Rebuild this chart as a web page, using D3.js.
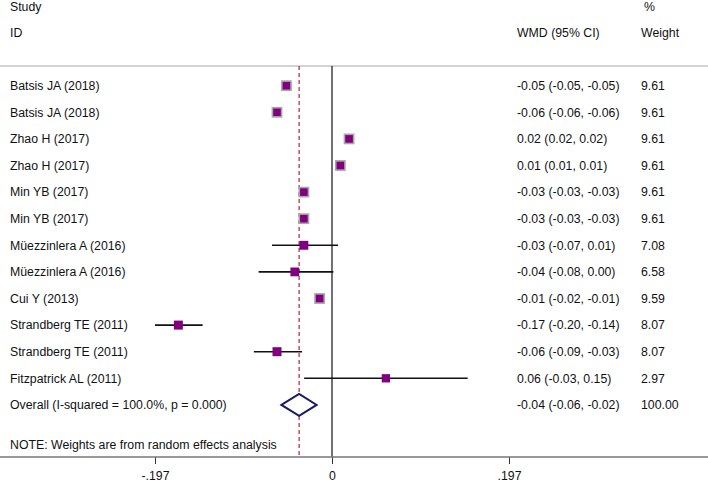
<!DOCTYPE html>
<html><head><meta charset="utf-8">
<script src="https://cdn.jsdelivr.net/npm/d3@7/dist/d3.min.js"></script>
<style>body{margin:0;background:#fff}svg{display:block}text{font-family:"Liberation Sans",Arial,sans-serif;font-size:12.3px;fill:#111}</style>
</head><body>
<script>
const studies = ["Batsis JA (2018)","Batsis JA (2018)","Zhao H (2017)","Zhao H (2017)","Min YB (2017)","Min YB (2017)","Müezzinlera A (2016)","Müezzinlera A (2016)","Cui Y (2013)","Strandberg TE (2011)","Strandberg TE (2011)","Fitzpatrick AL (2011)"];
const estimates = [-0.0507,-0.0612,0.019,0.0093,-0.0313,-0.0313,-0.0313,-0.0414,-0.0138,-0.171,-0.0612,0.060];
const lower = [-0.0512,-0.0617,0.0185,0.0088,-0.0318,-0.0318,-0.0668,-0.0817,-0.0143,-0.197,-0.087,-0.031];
const upper = [-0.0502,-0.0607,0.0195,0.0098,-0.0308,-0.0308,0.0067,0.0015,-0.0133,-0.144,-0.0333,0.151];
const effectLabels = ["-0.05 (-0.05, -0.05)","-0.06 (-0.06, -0.06)","0.02 (0.02, 0.02)","0.01 (0.01, 0.01)","-0.03 (-0.03, -0.03)","-0.03 (-0.03, -0.03)","-0.03 (-0.07, 0.01)","-0.04 (-0.08, 0.00)","-0.01 (-0.02, -0.01)","-0.17 (-0.20, -0.14)","-0.06 (-0.09, -0.03)","0.06 (-0.03, 0.15)"];
const weights = ["9.61","9.61","9.61","9.61","9.61","9.61","7.08","6.58","9.59","8.07","8.07","2.97"];
const overall = {label:"Overall  (I-squared = 100.0%, p = 0.000)", est:-0.0366, lo:-0.0563, hi:-0.0171, text:"-0.04 (-0.06, -0.02)", weight:"100.00"};
const tickValues = [-0.197, 0, 0.197];
const tickLabels = ["-.197","0",".197"];

const W=708,H=482;
const svg=d3.select("body").append("svg").attr("width",W).attr("height",H);
const x=d3.scaleLinear().domain([-0.197,0.197]).range([155,509]);
const y=d3.scaleLinear().domain([0,1]).range([85.7,112.3]);
const size=d3.scaleLinear().domain([2.97,9.61]).range([8.3,9.2]);
const topY=66, axisY=457;

// headers
const hdr=[["Study",10,7,"start"],["ID",10,33,"start"],["WMD (95% CI)",517,33,"start"],["%",644,7,"start"],["Weight",641,33,"start"]];
svg.selectAll("text.h").data(hdr).join("text").attr("class","h")
  .attr("x",d=>d[1]).attr("y",d=>d[2]).attr("dy","0.35em").text(d=>d[0]);

svg.append("line").attr("x1",0).attr("x2",W).attr("y1",topY).attr("y2",topY).attr("stroke","#c4c4c4").attr("stroke-width",1.5);

// zero line and overall line
svg.append("line").attr("x1",x(0)).attr("x2",x(0)).attr("y1",topY).attr("y2",axisY).attr("stroke","#111").attr("stroke-width",1.2);
svg.append("line").attr("x1",x(overall.est)).attr("x2",x(overall.est)).attr("y1",topY).attr("y2",axisY)
  .attr("stroke","#b22234").attr("stroke-width",1.2).attr("stroke-dasharray","4,3");

const rows=studies.map((s,i)=>({s,i,e:estimates[i],lo:lower[i],hi:upper[i],t:effectLabels[i],w:weights[i]}));
svg.selectAll("line.ci").data(rows).join("line").attr("class","ci")
  .attr("x1",d=>x(d.lo)).attr("x2",d=>x(d.hi)).attr("y1",d=>y(d.i)).attr("y2",d=>y(d.i))
  .attr("stroke","#111").attr("stroke-width",1.6);
svg.selectAll("rect.box").data(rows).join("rect").attr("class","box")
  .each(function(d){
    const sz=size(+d.w);
    const narrow=(x(d.hi)-x(d.lo))<sz;
    d3.select(this).attr("x",x(d.e)-sz/2).attr("y",y(d.i)-sz/2).attr("width",sz).attr("height",sz)
      .attr("fill","#800080").attr("stroke",narrow?"#a8a8a8":"none").attr("stroke-width",narrow?1.6:0);
  });
svg.selectAll("text.st").data(rows).join("text").attr("class","st")
  .attr("x",10).attr("y",d=>y(d.i)).attr("dy","0.35em").text(d=>d.s);
svg.selectAll("text.ef").data(rows).join("text").attr("class","ef")
  .attr("x",517).attr("y",d=>y(d.i)).attr("dy","0.35em").text(d=>d.t);
svg.selectAll("text.wt").data(rows).join("text").attr("class","wt")
  .attr("x",641).attr("y",d=>y(d.i)).attr("dy","0.35em").text(d=>d.w);

// overall
const oy=y(studies.length);
svg.append("path").attr("d",`M${x(overall.lo)},${oy}L${x(overall.est)},${oy-11}L${x(overall.hi)},${oy}L${x(overall.est)},${oy+11}Z`)
  .attr("fill","#fff").attr("stroke","#1a1a66").attr("stroke-width",2);
svg.append("text").attr("x",10).attr("y",oy).attr("dy","0.35em").text(overall.label);
svg.append("text").attr("x",517).attr("y",oy).attr("dy","0.35em").text(overall.text);
svg.append("text").attr("x",641).attr("y",oy).attr("dy","0.35em").text(overall.weight);
svg.append("text").attr("x",10).attr("y",y(studies.length+1.5)).attr("dy","0.35em").text("NOTE: Weights are from random effects analysis");

// axis
const ax=svg.append("g").attr("transform",`translate(0,${axisY})`)
  .call(d3.axisBottom(x).tickValues(tickValues).tickFormat((d,i)=>tickLabels[i]).tickSize(7).tickPadding(7));
ax.select(".domain").remove();
ax.selectAll(".tick line").attr("stroke","#333");
ax.selectAll(".tick text").style("font-family","Liberation Sans, Arial, sans-serif").style("font-size","12.3px").attr("fill","#111");
svg.append("line").attr("x1",0).attr("x2",W).attr("y1",axisY).attr("y2",axisY).attr("stroke","#777").attr("stroke-width",1.5);
</script>
</body></html>
